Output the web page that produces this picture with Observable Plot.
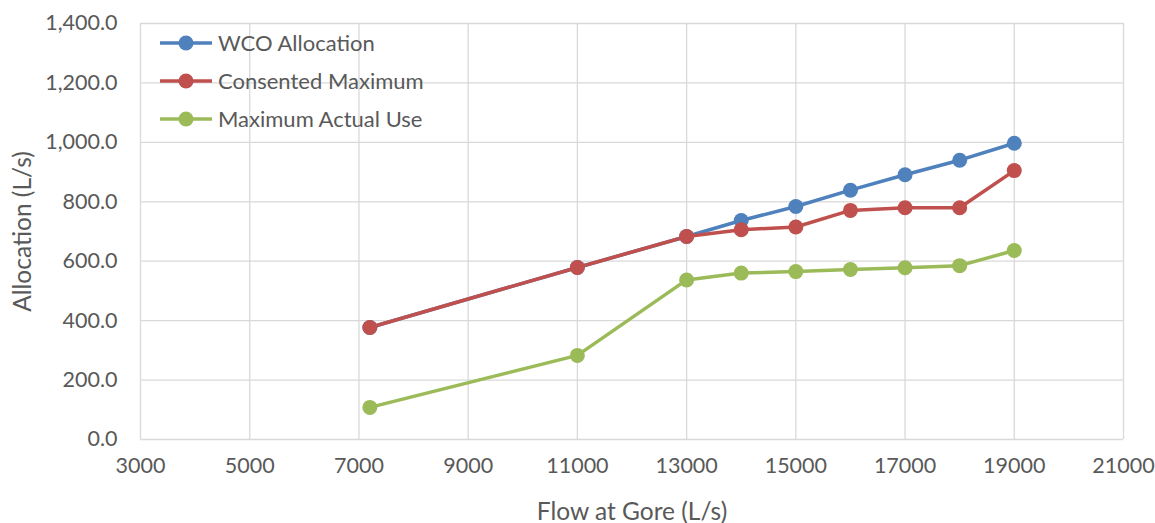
<!DOCTYPE html>
<html>
<head>
<meta charset="utf-8">
<script src="https://cdn.jsdelivr.net/npm/d3@7"></script>
<script src="https://cdn.jsdelivr.net/npm/@observablehq/plot@0.6"></script>
<style>
  html, body { margin: 0; padding: 0; background: #fff; }
  #chart { width: 1155px; height: 523px; }
  svg { font-family: Lato, "Open Sans", sans-serif; }
</style>
</head>
<body>
<div id="chart"></div>
<script>
// Flow at Gore (L/s)
const flow = [7200, 11000, 13000, 14000, 15000, 16000, 17000, 18000, 19000];
// Allocation series (L/s)
const wcoAllocation = [377, 579, 683, 737, 784, 839, 891, 940, 997];
const consentedMaximum = [377, 579, 683, 706, 715, 771, 780, 780, 905];
const maximumActualUse = [108, 283, 537, 560, 565, 572, 578, 585, 636];

const seriesNames = ["WCO Allocation", "Consented Maximum", "Maximum Actual Use"];
const seriesColors = ["#4F81BD", "#C0504D", "#9BBB59"];
const seriesValues = [wcoAllocation, consentedMaximum, maximumActualUse];

const xTicks = [3000, 5000, 7000, 9000, 11000, 13000, 15000, 17000, 19000, 21000];
const yTicks = [0, 200, 400, 600, 800, 1000, 1200, 1400];

const rows = seriesNames.flatMap((name, i) =>
  flow.map((f, j) => ({series: name, flow: f, value: seriesValues[i][j]}))
);

const textColor = "#595959";
const gridColor = "#D9D9D9";

const chart = Plot.plot({
  width: 1155,
  height: 523,
  marginLeft: 140,
  marginRight: 32,
  marginTop: 23,
  marginBottom: 84,
  style: {fontSize: "21px", color: textColor, background: "#fff"},
  x: {domain: [3000, 21000]},
  y: {domain: [0, 1400]},
  color: {domain: seriesNames, range: seriesColors},
  marks: [
    Plot.gridX(xTicks, {stroke: gridColor, strokeOpacity: 1, strokeWidth: 1.3}),
    Plot.gridY(yTicks, {stroke: gridColor, strokeOpacity: 1, strokeWidth: 1.3}),
    Plot.axisX(xTicks, {
      tickSize: 0, tickPadding: 18, tickFormat: d => String(d),
      fontSize: 21.5, fill: textColor, label: null
    }),
    Plot.axisY(yTicks, {
      tickSize: 0, tickPadding: 23, tickFormat: d3.format(",.1f"),
      fontSize: 21.5, fill: textColor, label: null
    }),
    Plot.axisX({
      ticks: [], tickSize: 0, fontSize: 24.5, fill: textColor,
      label: "Flow at Gore (L/s)", labelAnchor: "center", labelArrow: "none", labelOffset: 80
    }),
    Plot.axisY({
      ticks: [], tickSize: 0, fontSize: 24.5, fill: textColor,
      label: "Allocation (L/s)", labelAnchor: "center", labelArrow: "none", labelOffset: 127
    }),
    Plot.line(rows, {x: "flow", y: "value", z: "series", stroke: "series", strokeWidth: 3.5}),
    Plot.dot(rows, {x: "flow", y: "value", fill: "series", r: 7.5})
  ]
});

document.getElementById("chart").appendChild(chart);

// Legend inside the plot area, top-left
const svg = d3.select(chart);
const legend = svg.append("g").attr("transform", "translate(160,43)");
seriesNames.forEach((name, i) => {
  const g = legend.append("g").attr("transform", `translate(0,${i * 38})`);
  g.append("line").attr("x1", 0).attr("x2", 52).attr("y1", 0).attr("y2", 0)
    .attr("stroke", seriesColors[i]).attr("stroke-width", 3.5);
  g.append("circle").attr("cx", 26).attr("cy", 0).attr("r", 7.5).attr("fill", seriesColors[i]);
  g.append("text").attr("x", 58).attr("y", 0).attr("dy", "0.35em")
    .attr("text-anchor", "start")
    .attr("fill", textColor).attr("font-size", 22).text(name);
});
</script>
</body>
</html>
